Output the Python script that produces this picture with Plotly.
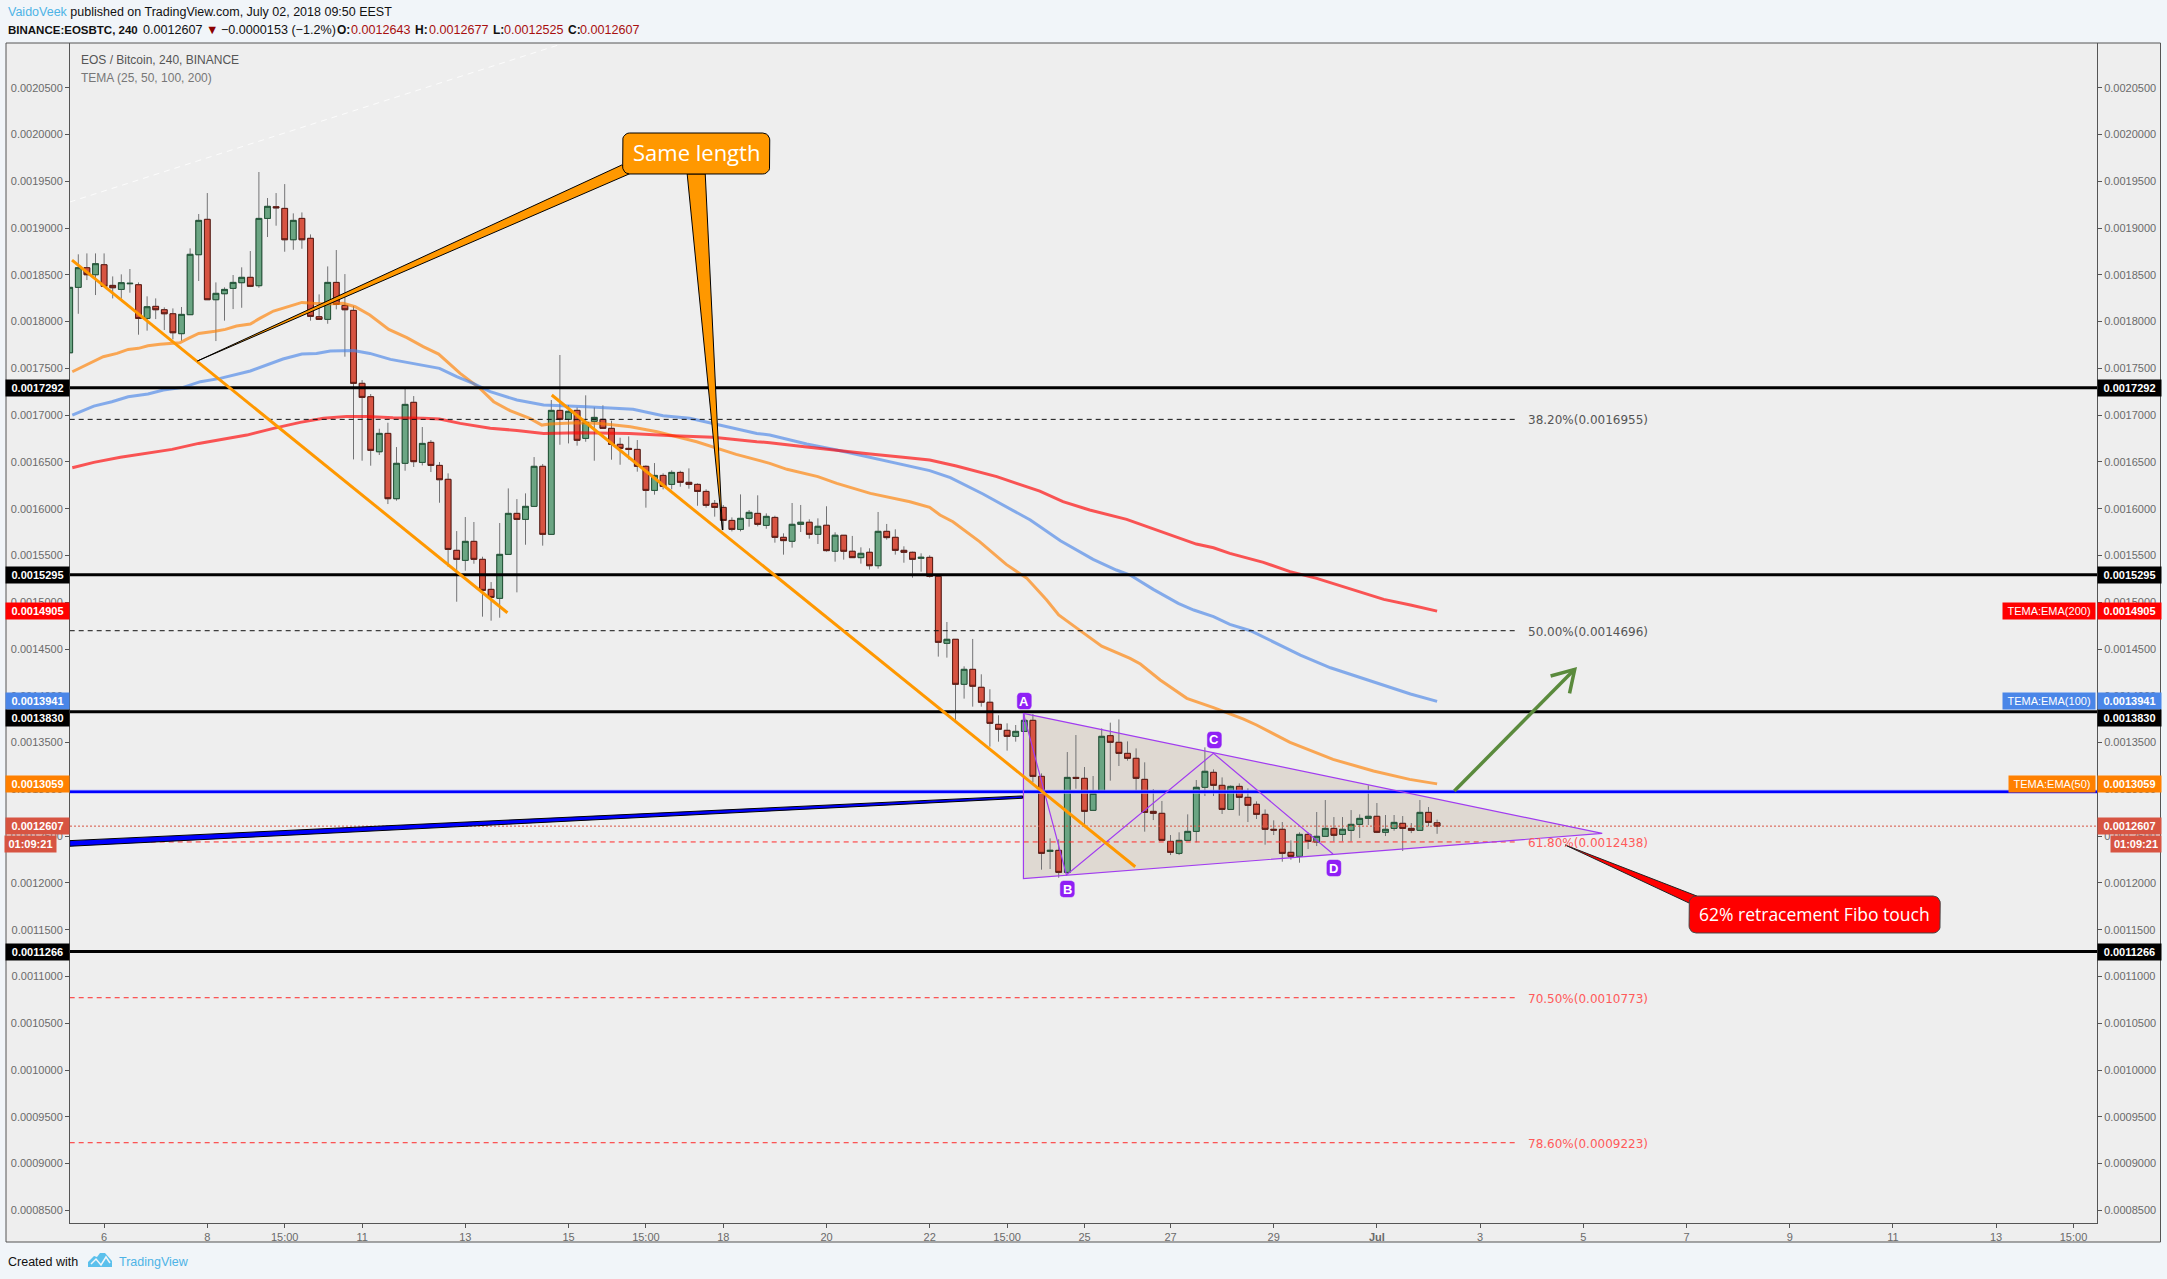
import math
import plotly.graph_objects as go

# All prices are listed in units of 0.0000001 BTC
UNIT = 1e-7
OPEN = [17667,18366,18576,18501,18608,18387,18344,18405,18394,18034,18163,18127,18084,17871,18074,18715,19093,18234,18298,18355,
        18416,18473,18384,19103,19228,19210,18875,19103,18890,18052,18024,18419,18173,18120,17340,17197,16609,16805,16107,16485,
        17137,16495,16709,16463,16314,15555,15448,15651,15459,15138,15042,15512,15950,15886,16025,16453,15726,17051,16955,17051,
        16752,16934,16955,16859,16688,16645,16634,16453,16196,16356,16260,16388,16282,16260,16185,16057,16014,15875,15779,15897,
        15950,15822,15907,15694,15652,15833,15855,15726,15823,15545,15716,15545,15477,15534,15391,15758,15694,15555,15534,15470,
        15480,15277,14561,14604,14123,14283,14091,13931,13695,13631,13567,13620,13738,13139,12337,12348,12113,13128,13118,12776,
        12979,13574,13503,13385,13332,13107,12765,12744,12444,12316,12455,12551,13022,13182,13043,12786,13032,12915,12840,12733,
        12573,12573,12327,12284,12519,12437,12498,12583,12519,12562,12626,12690,12712,12541,12583,12637,12583,12562,12754,12643]
HIGH = [18366,18719,18729,18729,18729,18483,18505,18562,18419,18270,18248,18152,18141,18156,18783,19150,19374,18419,18366,18498,
        18580,18754,19599,19321,19374,19470,19157,19167,18932,18291,18590,18765,18508,18166,17375,17226,16855,16919,16659,17286,
        17204,16873,16734,16499,16378,15761,15911,15858,15487,15216,15847,16217,16103,16164,16552,16478,17162,17643,17108,17083,
        17212,17083,17105,16941,16759,16773,16734,16463,16488,16378,16410,16406,16431,16271,16207,16093,16039,15907,16153,15986,
        16143,15950,15925,15737,16061,16040,15887,15897,16026,15748,15716,15709,15587,15577,15965,15837,15780,15598,15541,15523,
        15502,15277,14789,14604,14315,14608,14230,14070,13792,13706,13688,13802,13805,13171,12476,12466,13399,13581,13239,13143,
        13652,13713,13748,13513,13438,13289,13004,12876,12512,12541,12733,13100,13449,13214,13128,13043,13064,13011,12872,12786,
        12669,12651,12455,12541,12541,12758,12886,12704,12704,12779,12733,13043,12854,12726,12726,12715,12640,12886,12811,12677]
LOW = [17667,18084,18444,18284,18373,18248,18245,18309,17860,17903,18027,17910,17810,17796,18074,18434,18234,17792,18010,18134,
       18148,18369,18362,18904,19025,18747,18768,18779,18010,18020,17977,18131,17625,16527,16513,16460,16574,16050,16086,16406,
       16446,16463,16392,16064,15380,15006,15337,15412,14846,14803,14835,15512,15106,15615,16025,15605,15726,16684,16698,16674,
       16716,16513,16859,16524,16470,16527,16396,16011,16150,16207,16207,16235,16214,16032,16011,15915,15772,15758,15758,15808,
       15811,15786,15637,15509,15584,15751,15680,15623,15541,15434,15456,15477,15413,15349,15359,15669,15509,15423,15263,15327,
       15263,14419,14408,13742,13970,13884,13884,13457,13510,13414,13510,13617,13075,12142,12149,12056,12095,13007,12619,12776,
       12979,13093,13250,13307,12982,12548,12672,12455,12298,12298,12455,12434,12929,12929,12737,12786,12719,12651,12683,12409,
       12512,12227,12248,12216,12362,12394,12498,12444,12444,12444,12480,12619,12533,12501,12558,12341,12533,12562,12605,12525]
CLOSE = [18366,18576,18501,18619,18377,18362,18416,18409,18034,18159,18127,18084,17881,18077,18719,19082,18234,18302,18344,18419,
         18473,18377,19103,19232,19217,18875,19082,18875,18056,18024,18419,18184,18127,17340,17190,16624,16805,16107,16485,17115,
         16503,16698,16463,16310,15565,15459,15651,15459,15127,15052,15512,15950,15886,16025,16453,15726,17051,16955,17041,16731,
         16923,16976,16859,16688,16645,16634,16453,16196,16356,16239,16388,16282,16260,16185,16036,16014,15875,15779,15897,15961,
         15833,15918,15694,15659,15833,15855,15726,15812,15552,15716,15545,15477,15523,15391,15758,15691,15555,15534,15459,15480,
         15277,14572,14604,14123,14283,14102,13931,13706,13642,13567,13620,13738,13139,12316,12348,12113,13128,13118,12765,12957,
         13567,13503,13385,13332,13118,12754,12744,12455,12327,12455,12551,13022,13193,13043,12786,13032,12915,12829,12733,12573,
         12565,12316,12284,12519,12444,12498,12583,12509,12573,12626,12690,12712,12541,12573,12647,12583,12562,12754,12647,12607]

# Moving averages: (bar number, price)
EMA50_X = [0.3,2.8,3.9,5.5,6.8,8,9.1,10.5,12.8,13.8,15,16.9,18.1,19.4,21,22.1,23.7,25.6,27,28.3,29.9,31.8,33.2,34.9,37.1,39.2,41.1,
           42.9,45.4,47.7,49.3,51.2,53.5,54.9,55.8,58.9,61.7,65.2,68.3,72.9,74.8,77.5,81.4,83.4,87,89.2,93.1,97.7,100,101.2,102.7,
           105.8,108.9,111.3,113.6,115,117.5,120,123.3,124.5,126.8,129.9,133,136.5,138,141.9,146.9,151.6,155.8,159]
EMA50_Y = [17464,17582,17625,17660,17703,17714,17742,17757,17774,17821,17874,17896,17917,17953,17974,18034,18113,18166,18205,18195,
           18188,18195,18159,18070,17917,17828,17732,17653,17447,17286,17144,17048,16966,16894,16905,16919,16912,16877,16823,16716,
           16663,16581,16485,16421,16343,16271,16164,16075,16015,15933,15861,15648,15405,15256,15024,14864,14697,14530,14400,14340,
           14169,13973,13873,13752,13688,13503,13321,13196,13107,13059]
EMA100_X = [0.3,2.8,4.9,6.8,9.1,10.9,13.2,15.2,17.5,21,24.8,27,28.7,30.3,33,34.9,37.3,40,43,45,46.9,48.9,52,55.1,60.1,65.5,69,72.1,
            75.6,79.9,81.4,85.7,89.2,93.8,100,102.4,106.2,111.7,115.2,119,121.7,123.3,126,128.9,130.7,133,134.9,137.3,140.4,143.1,
            146.6,149.7,152.8,155.9,159]
EMA100_Y = [17001,17097,17144,17197,17226,17268,17297,17358,17393,17472,17600,17653,17660,17685,17692,17660,17596,17553,17500,17411,
            17340,17251,17162,17108,17090,17062,16994,16966,16894,16805,16788,16692,16628,16531,16407,16332,16157,15879,15658,15459,
            15345,15291,15138,14988,14917,14846,14764,14696,14553,14436,14300,14204,14115,14019,13941]
EMA200_X = [0.3,2.8,5.9,9,11.9,15,17.5,20.6,23.7,26.8,29.5,32.2,34.6,37.6,41.1,43,45.4,48.9,52,55.1,59.3,65.1,70.2,74.8,79.9,81.4,
            85.7,89.2,93.1,96.9,100,103.1,107.8,110.1,112.8,115.5,118.6,122.9,127.9,131,133,134.9,138.8,141.9,145,147.3,150,152.8,155.9,159]
EMA200_Y = [16438,16495,16549,16591,16634,16698,16741,16787,16859,16923,16966,16987,16987,16973,16966,16958,16912,16859,16837,16805,
            16812,16805,16780,16763,16716,16706,16660,16628,16585,16549,16521,16457,16343,16271,16189,16075,15986,15886,15726,15622,
            15583,15522,15426,15327,15255,15191,15113,15031,14970,14905]

# Levels
BLACK_LEVELS = [17292, 15295, 13830, 11266]
BLUE_LEVEL = 12975
LAST_PRICE = 12607
FIB_PCT = ["38.20%", "50.00%", "61.80%", "70.50%", "78.60%"]
FIB_VAL = [16955, 14696, 12438, 10773, 9223]
FIB_COL = ["#111111", "#111111", "#ff2a2a", "#ff2a2a", "#ff2a2a"]
FIB_TXT = ["#555555", "#555555", "#ff5a5a", "#ff5a5a", "#ff5a5a"]
FIB_X = [0, 168.4]

# Drawings: (bar number, price)
TREND1_X, TREND1_Y = [0.27, 50.9], [18658, 14888]
TREND2_X, TREND2_Y = [56.05, 123.9], [17215, 12173]
GHOST_X, GHOST_Y = [0, 56.8], [19278, 20956]
TRI_X, TRI_Y = [110.9, 178.2, 110.9], [13813, 12530, 12045]
ABCD_X, ABCD_Y = [110.9, 115.9, 133, 146.9], [13813, 12085, 13385, 12309]
ABCD_NAME = ["A", "B", "C", "D"]
ABCD_LX, ABCD_LY = [111, 116, 133.1, 147], [13944, 11935, 13528, 12159]
ARROW_X, ARROW_Y = [161, 175], [12982, 14283]
HEAD_X, HEAD_Y = [172.2, 175, 174.4], [14212, 14283, 14027]
WEDGE_X, WEDGE_Y = [0, 110.8, 110.8, 0], [12452, 12930, 12905, 12392]
SAME_BOX_X, SAME_BOX_Y = [64.3, 81.4], [19578, 20016]
SAME_TAIL1_X, SAME_TAIL1_Y = [64.2, 14.85, 65.3], [19674, 17579, 19588]
SAME_TAIL2_X, SAME_TAIL2_Y = [71.8, 75.9, 73.9], [19578, 15772, 19578]
RED_BOX_X, RED_BOX_Y = [188.3, 217.5], [11465, 11860]
RED_TAIL_X, RED_TAIL_Y = [189.2, 173.9, 188.3], [11860, 12405, 11785]

# Axis
Y_TICKS = [8500 + 500 * k for k in range(25)]
X_TICK_POS = [4,16,25,34,46,58,67,76,88,100,109,118,128,140,152,164,176,188,200,212,224,233]
X_TICK_TXT = ["6","8","15:00","11","13","15","15:00","18","20","22","15:00","25","27","29","<b>Jul</b>","3","5","7","9","11","13","15:00"]

# Axis tags: price, colour, shift
TAG_VAL = [17292, 15295, 14905, 13941, 13830, 13059, 12607, 11266]
TAG_COL = ["#000000", "#000000", "#ff0000", "#4a86e8", "#000000", "#ff8000", "#d75442", "#000000"]
TAG_SHIFT = [0, 0, 0, 0, -6, 0, 0, 0]
EMA_TAG = ["TEMA:EMA(200)", "TEMA:EMA(100)", "TEMA:EMA(50)"]
EMA_TAG_VAL = [14905, 13941, 13059]
EMA_TAG_COL = ["#ff0000", "#4a86e8", "#ff8000"]
EMA_TAG_W = [92, 92, 86]
COUNTDOWN = "01:09:21"

# Page geometry
W, H = 2167, 1279
L, R, T, B = 70, 2097, 43, 1223
BAR_PX = 8.6
UNIT_PX = 10.689
XR = [(L - 69.7) / BAR_PX, (R - 69.7) / BAR_PX]
YR = [8365 * UNIT, 20978 * UNIT]
FONT = "Liberation Sans"
INK = "#6a6a6a"


def scale(vals):
    return [v * UNIT for v in vals]


def rounded(x0, x1, y0, y1, r):
    """Rounded box in data units; r is the corner radius in pixels."""
    rx, ry = r / BAR_PX, r * UNIT_PX
    xs, ys = [], []
    corners = [(x1 - rx, y1 - ry, 90), (x1 - rx, y0 + ry, 0), (x0 + rx, y0 + ry, -90), (x0 + rx, y1 - ry, -180)]
    for cx, cy, start in corners:
        for k in range(7):
            a = math.radians(start - k * 15)
            xs.append(cx + rx * math.cos(a))
            ys.append(cy + ry * math.sin(a))
    return xs + xs[:1], ys + ys[:1]


def px(x):
    return (x - L) / (R - L)


def py(y):
    return (B - y) / (B - T)


fig = go.Figure()
BARS = list(range(len(OPEN)))

fig.add_trace(go.Candlestick(
    x=BARS, open=scale(OPEN), high=scale(HIGH), low=scale(LOW), close=scale(CLOSE),
    increasing=dict(line=dict(color="#737375", width=1), fillcolor="#737375"),
    decreasing=dict(line=dict(color="#737375", width=1), fillcolor="#737375"),
    whiskerwidth=0, showlegend=False, hoverinfo="skip"))
fig.add_trace(go.Candlestick(
    x=BARS, open=scale(OPEN), close=scale(CLOSE),
    high=scale([max(a, b) for a, b in zip(OPEN, CLOSE)]),
    low=scale([min(a, b) for a, b in zip(OPEN, CLOSE)]),
    increasing=dict(line=dict(color="#225437", width=1), fillcolor="#6ba583"),
    decreasing=dict(line=dict(color="#5b1a13", width=1), fillcolor="#d75442"),
    whiskerwidth=0, showlegend=False, hoverinfo="skip"))


def line(xs, ys, color, width=1, dash=None, fill=None, fillcolor=None, yaxis="y"):
    fig.add_trace(go.Scatter(x=xs, y=scale(ys), mode="lines", yaxis=yaxis,
                             line=dict(color=color, width=width, dash=dash),
                             fill=fill, fillcolor=fillcolor, showlegend=False, hoverinfo="skip"))


line(EMA50_X, EMA50_Y, "rgba(255,128,0,0.65)", 3)
line(EMA100_X, EMA100_Y, "rgba(74,134,232,0.65)", 3)
line(EMA200_X, EMA200_Y, "rgba(255,0,0,0.65)", 3)

line(GHOST_X, GHOST_Y, "rgba(255,255,255,0.8)", 1, "6px,5px")
for val, col in zip(FIB_VAL, FIB_COL):
    line(FIB_X, [val, val], col, 1, "5px,4px")
line(XR, [LAST_PRICE, LAST_PRICE], "#d75442", 1, "2px,2px")
for val in BLACK_LEVELS:
    line(XR, [val, val], "#000000", 3)
line(XR, [BLUE_LEVEL, BLUE_LEVEL], "rgba(160,160,255,0.9)", 4)
line(XR, [BLUE_LEVEL, BLUE_LEVEL], "#0000ff", 2.4)

# Triangle outline and ABCD path
line(TRI_X + TRI_X[:1], TRI_Y + TRI_Y[:1], "#a13cf0", 1.2)
line(ABCD_X, ABCD_Y, "#a13cf0", 1.2)

line(TREND1_X, TREND1_Y, "#ff9800", 3)
line(TREND2_X, TREND2_Y, "#ff9800", 3)
line(ARROW_X, ARROW_Y, "#5a8a3c", 3.5)
line(HEAD_X, HEAD_Y, "#5a8a3c", 3.5)
line(WEDGE_X + WEDGE_X[:1], WEDGE_Y + WEDGE_Y[:1], "#000000", 1, None, "toself", "#0000ff")

line(SAME_TAIL1_X + SAME_TAIL1_X[:1], SAME_TAIL1_Y + SAME_TAIL1_Y[:1], "#000000", 1, None, "toself", "#ff9800")
line(SAME_TAIL2_X + SAME_TAIL2_X[:1], SAME_TAIL2_Y + SAME_TAIL2_Y[:1], "#000000", 1, None, "toself", "#ff9800")
bx, by = rounded(SAME_BOX_X[0], SAME_BOX_X[1], SAME_BOX_Y[0], SAME_BOX_Y[1], 7)
line(bx, by, "#000000", 1, None, "toself", "#ff9800")
line(RED_TAIL_X + RED_TAIL_X[:1], RED_TAIL_Y + RED_TAIL_Y[:1], "#222222", 1, None, "toself", "#ff0000")
bx, by = rounded(RED_BOX_X[0], RED_BOX_X[1], RED_BOX_Y[0], RED_BOX_Y[1], 7)
line(bx, by, "#444444", 1, None, "toself", "#ff0000")

# Letter badges
for lx, ly in zip(ABCD_LX, ABCD_LY):
    bx, by = rounded(lx - 7 / BAR_PX, lx + 7 / BAR_PX, ly - 8 * UNIT_PX, ly + 8 * UNIT_PX, 3)
    line(bx, by, "#8f1ff5", 0.5, None, "toself", "#8f1ff5")

# Invisible trace keeps the right-hand price axis alive
fig.add_trace(go.Scatter(x=[XR[0]], y=[YR[0]], yaxis="y2", mode="markers", marker=dict(opacity=0),
                         showlegend=False, hoverinfo="skip"))

annos = []


def note(text, x, y, size=12, color="#000000", xanchor="left", yanchor="middle", family=FONT, xref="paper", yref="paper", **kw):
    annos.append(dict(text=text, x=x, y=y, xref=xref, yref=yref, xanchor=xanchor, yanchor=yanchor,
                      showarrow=False, font=dict(size=size, color=color, family=family), **kw))


# Header, footer
note('<span style="color:#4db3e6">VaidoVeek</span> published on TradingView.com, July 02, 2018 09:50 EEST',
     px(6), py(11.7), 12.5, "#111111")
red = "#a80f0f"
HEADER_TEXT = ["<b>BINANCE:EOSBTC, 240</b>", "0.0012607", "▼", "−0.0000153 (−1.2%)", "<b>O:</b>", "0.0012643", "<b>H:</b>", "0.0012677",
               "<b>L:</b>", "0.0012525", "<b>C:</b>", "0.0012607"]
HEADER_X = [6, 140.5, 204, 218.5, 335, 349, 413, 427, 491, 502, 566, 577.6]
HEADER_COL = ["#111111", "#111111", "#8b0000", "#111111", "#111111", red, "#111111", red, "#111111", red, "#111111", red]
HEADER_SIZE = [11.5, 12.6, 12.6, 12.6, 12, 12.6, 12, 12.6, 12, 12.6, 12, 12.6]
for t, xp, c, s in zip(HEADER_TEXT, HEADER_X, HEADER_COL, HEADER_SIZE):
    note(t, px(xp), py(29.7), s, c)
note("EOS / Bitcoin, 240, BINANCE", px(79), py(60), 12, "#555555")
note("TEMA (25, 50, 100, 200)", px(79), py(77.5), 12, "#777777")
note("Created with", px(6), py(1261.5), 12.5, "#111111")
note("TradingView", px(117), py(1261.5), 12.5, "#4db3e6")

# Fibonacci labels
for pct, val, col in zip(FIB_PCT, FIB_VAL, FIB_TXT):
    note(f"{pct}({val * UNIT:.7f})", 169.3, val * UNIT, 12, col, xref="x", yref="y", family="DejaVu Sans", yshift=-1)

# Axis tags both sides
for val, col, sh in zip(TAG_VAL, TAG_COL, TAG_SHIFT):
    txt = f"<b>{val * UNIT:.7f}</b>"
    for xp, anchor in ((0, "right"), (1, "left")):
        note(txt, xp, val * UNIT, 11, "#ffffff", xanchor=anchor, xref="paper", yref="y",
             bgcolor=col, width=63, height=16, borderpad=0, align="center", yshift=sh)
for txt, val, col, w in zip(EMA_TAG, EMA_TAG_VAL, EMA_TAG_COL, EMA_TAG_W):
    note(txt, 1, val * UNIT, 11, "#ffffff", xanchor="right", xref="paper", yref="y",
         bgcolor=col, width=w, height=16, borderpad=0, align="center", xshift=-1)
note(f"<b>{COUNTDOWN}</b>", 0, py(844), 11, "#ffffff", xanchor="right", bgcolor="#d75442", width=51, height=16, borderpad=0,
     align="center", xshift=-13)
note(f"<b>{COUNTDOWN}</b>", 1, py(844), 11, "#ffffff", xanchor="left", bgcolor="#d75442", width=50, height=16, borderpad=0,
     align="center", xshift=13)

# Balloons and badges
note("Same length", sum(SAME_BOX_X) / 2, sum(SAME_BOX_Y) / 2 * UNIT, 22, "#ffffff", xanchor="center",
     xref="x", yref="y", family="Open Sans", yshift=1)
note("62% retracement Fibo touch", sum(RED_BOX_X) / 2, sum(RED_BOX_Y) / 2 * UNIT, 17.5, "#ffffff", xanchor="center",
     xref="x", yref="y", family="Open Sans", yshift=1)
for name, lx, ly in zip(ABCD_NAME, ABCD_LX, ABCD_LY):
    note(f"<b>{name}</b>", lx, ly * UNIT, 13, "#ffffff", xanchor="center", xref="x", yref="y")

tri_path = "M" + " L".join(f"{x},{y * UNIT}" for x, y in zip(TRI_X, TRI_Y)) + " Z"
shapes = [
    dict(type="rect", xref="paper", yref="paper", x0=px(6), x1=px(2160.5), y0=py(43), y1=py(1242),
         fillcolor="#eeeeee", line=dict(color="#555555", width=1), layer="below"),
    dict(type="path", xref="x", yref="y", path=tri_path, fillcolor="rgba(155,124,83,0.18)",
         line=dict(width=0), layer="below"),
    dict(type="path", xref="paper", yref="paper",
         path=(f"M{px(88)},{py(1267)} L{px(88)},{py(1262)} L{px(94)},{py(1256)} L{px(97)},{py(1257)} L{px(100)},{py(1253)} "
               f"L{px(105)},{py(1253)} L{px(112)},{py(1261)} L{px(112)},{py(1267)} Z"),
         fillcolor="#5bc0ec", line=dict(width=0)),
    dict(type="path", xref="paper", yref="paper",
         path=f"M{px(91)},{py(1264)} L{px(96)},{py(1259)} L{px(101)},{py(1265)} L{px(106)},{py(1257)} L{px(110)},{py(1263)}",
         line=dict(color="#f1f5f9", width=1.5)),
]

axis_font = dict(size=11, color=INK, family=FONT)
fig.update_layout(
    width=W, height=H, autosize=False,
    margin=dict(l=L, r=W - R, t=T, b=H - B, pad=0, autoexpand=False),
    paper_bgcolor="#f1f5f9", plot_bgcolor="#eeeeee",
    boxgap=0.33, boxgroupgap=0,
    showlegend=False, hovermode=False, dragmode=False,
    xaxis=dict(range=XR, tickmode="array", tickvals=X_TICK_POS, ticktext=X_TICK_TXT, ticks="outside", ticklen=4,
               tickcolor="#555555", showgrid=False, zeroline=False, showline=True, linecolor="#555555", linewidth=1,
               tickfont=axis_font, rangeslider=dict(visible=False), fixedrange=True),
    yaxis=dict(range=YR, tickmode="array", tickvals=scale(Y_TICKS), tickformat=".7f", ticks="outside", ticklen=4,
               tickcolor="#555555", showgrid=False, zeroline=False, showline=True, linecolor="#555555", linewidth=1,
               tickfont=axis_font, fixedrange=True),
    yaxis2=dict(range=YR, overlaying="y", side="right", tickmode="array", tickvals=scale(Y_TICKS), tickformat=".7f",
                ticks="outside", ticklen=4, tickcolor="#555555", showgrid=False, zeroline=False, showline=True,
                linecolor="#555555", linewidth=1, tickfont=axis_font, fixedrange=True),
    annotations=annos, shapes=shapes,
)

fig.write_html("out.html", config=dict(displayModeBar=False),
               post_script="document.body.style.margin='0';document.body.style.overflow='hidden';")
